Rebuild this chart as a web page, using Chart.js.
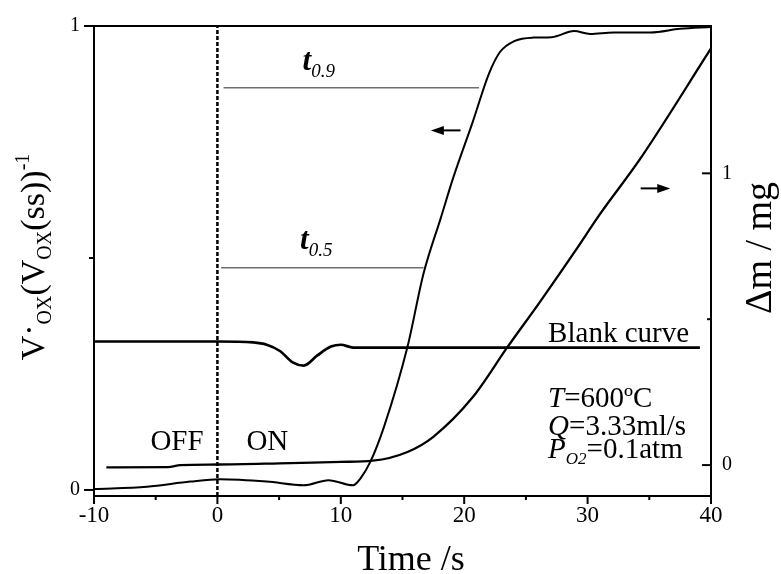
<!DOCTYPE html>
<html>
<head>
<meta charset="utf-8">
<script src="https://cdn.jsdelivr.net/npm/chart.js@4.4.1/dist/chart.umd.min.js"></script>
<style>
  body { margin: 0; background: #fff; }
  canvas { display: block; }
</style>
</head>
<body>
<canvas id="chart" width="781" height="574"></canvas>
<script>
// normalised oxidation rate (left axis)
const oxTime   = [-10, -5.7, -2.2, 0.2, 4.0, 7.0, 9.0, 11.0, 11.6, 12.4, 13.5, 15.4, 16.7, 18.1, 19.1, 20.7, 22.0, 22.9, 24.1, 25.6, 27.1, 28.9, 30.2, 32.1, 35.1, 37.5, 40];
const oxValues = [0.002, 0.007, 0.018, 0.023, 0.018, 0.010, 0.021, 0.010, 0.025, 0.061, 0.136, 0.308, 0.466, 0.586, 0.672, 0.794, 0.897, 0.944, 0.968, 0.975, 0.976, 0.989, 0.983, 0.986, 0.986, 0.994, 0.998];

// mass gain (right axis)
const dmTime   = [-9, -4, -3, 0, 5, 10, 12.6, 15.4, 17.5, 20.7, 23.5, 26.2, 29.0, 31.0, 34.3, 40];
const dmValues = [-0.008, -0.007, 0.0, 0.002, 0.006, 0.011, 0.015, 0.045, 0.097, 0.233, 0.404, 0.563, 0.734, 0.860, 1.052, 1.428];

// blank curve (left axis)
const blankTime   = [-10, 0, 2.9, 4.0, 5.1, 6.1, 7.0, 8.1, 9.2, 10.0, 11.0, 13.2, 39.1];
const blankValues = [0.320, 0.320, 0.318, 0.313, 0.299, 0.275, 0.268, 0.290, 0.309, 0.313, 0.307, 0.307, 0.307];

// t0.9 / t0.5 marker lines and the switch-on line
const t09Time = [0.5, 21.2];
const t09Values = [0.867, 0.867];
const t05Time = [0.3, 16.7];
const t05Values = [0.479, 0.479];
const switchTime = [0, 0];
const switchValues = [-0.013, 1];

const xTicks = [-10, 0, 10, 20, 30, 40];
const leftTicks = [0, 1];
const rightTicks = [0, 1];

const SERIF = "'Liberation Serif', 'Times New Roman', serif";
Chart.defaults.font.family = SERIF;
Chart.defaults.color = "#000";

function pts(xs, ys) {
  return xs.map((x, i) => ({x: x, y: ys[i]}));
}

function rich(ctx, x, y, parts) {
  let cx = x;
  parts.forEach(p => {
    ctx.font = p.f;
    ctx.fillText(p.t, cx, y + (p.dy || 0));
    cx += ctx.measureText(p.t).width;
  });
}

function richWidth(ctx, parts) {
  let w = 0;
  parts.forEach(p => { ctx.font = p.f; w += ctx.measureText(p.t).width; });
  return w;
}

function seg(ctx, x1, y1, x2, y2) {
  ctx.beginPath();
  ctx.moveTo(x1, y1);
  ctx.lineTo(x2, y2);
  ctx.stroke();
}

function arrow(ctx, xTail, xHead, y) {
  const dir = xHead > xTail ? 1 : -1;
  ctx.lineWidth = 2;
  seg(ctx, xTail, y, xHead - dir * 8, y);
  ctx.beginPath();
  ctx.moveTo(xHead, y);
  ctx.lineTo(xHead - dir * 13, y - 4.5);
  ctx.lineTo(xHead - dir * 13, y + 4.5);
  ctx.closePath();
  ctx.fill();
}

const decorations = {
  id: "decorations",
  afterDraw(chart) {
    const ctx = chart.ctx;
    const a = chart.chartArea;
    const sx = chart.scales.x, sy = chart.scales.y, sy2 = chart.scales.y2;
    ctx.save();
    ctx.strokeStyle = "#000";
    ctx.fillStyle = "#000";

    // frame top
    ctx.lineWidth = 2;
    seg(ctx, a.left - 1, a.top, a.right + 1, a.top);

    // tick marks
    for (let v = -10; v <= 40; v += 5) {
      const px = sx.getPixelForValue(v);
      seg(ctx, px, a.bottom, px, a.bottom + (v % 10 === 0 ? 8 : 4));
    }
    [[0, 10], [0.5, 5], [1, 10]].forEach(([v, len]) => {
      const py = sy.getPixelForValue(v);
      seg(ctx, a.left - len, py, a.left, py);
    });
    [[0, 9], [0.5, 4], [1, 9]].forEach(([v, len]) => {
      const py = sy2.getPixelForValue(v);
      seg(ctx, a.right - len, py, a.right, py);
    });

    // arrows pointing at each curve's axis
    arrow(ctx, sx.getPixelForValue(19.7), sx.getPixelForValue(17.3), sy.getPixelForValue(0.775));
    arrow(ctx, sx.getPixelForValue(34.3), sx.getPixelForValue(36.7), sy.getPixelForValue(0.650));

    // annotations
    ctx.textBaseline = "alphabetic";
    ctx.textAlign = "left";
    const f29 = "29px " + SERIF;
    const i29 = "italic 29px " + SERIF;
    const at = (t, v) => [sx.getPixelForValue(t), sy.getPixelForValue(v)];

    let p = at(-5.43, 0.086);
    rich(ctx, p[0], p[1], [{t: "OFF", f: f29}]);
    p = at(2.35, 0.086);
    rich(ctx, p[0], p[1], [{t: "ON", f: f29}]);
    p = at(26.8, 0.318);
    rich(ctx, p[0], p[1], [{t: "Blank curve", f: f29}]);
    p = at(26.8, 0.178);
    rich(ctx, p[0], p[1], [{t: "T", f: i29}, {t: "=600ºC", f: f29}]);
    p = at(26.8, 0.118);
    rich(ctx, p[0], p[1], [{t: "Q", f: i29}, {t: "=3.33ml/s", f: f29}]);
    p = at(26.8, 0.069);
    rich(ctx, p[0], p[1], [{t: "P", f: i29}, {t: "O2", f: "italic 17px " + SERIF, dy: 6}, {t: "=0.1atm", f: f29}]);

    const tf = "italic bold 31px " + SERIF;
    const sf = "italic 19px " + SERIF;
    p = at(6.9, 0.906);
    rich(ctx, p[0], p[1], [{t: "t", f: tf}, {t: "0.9", f: sf, dy: 7}]);
    p = at(6.7, 0.519);
    rich(ctx, p[0], p[1], [{t: "t", f: tf}, {t: "0.5", f: sf, dy: 7}]);

    // x title
    ctx.font = "36px " + SERIF;
    ctx.textAlign = "center";
    ctx.fillText("Time /s", 411, 570);
    ctx.textAlign = "left";

    // left title, rotated
    const big = "34px " + SERIF;
    const sub = "20px " + SERIF;
    const leftTitle = [
      {t: "V", f: big}, {t: "·", f: big, dy: -4}, {t: "OX", f: sub, dy: 7},
      {t: "(", f: big}, {t: "V", f: big}, {t: "OX", f: sub, dy: 7},
      {t: "(ss))", f: big}, {t: "-1", f: sub, dy: -15}
    ];
    ctx.save();
    ctx.translate(44, 257);
    ctx.rotate(-Math.PI / 2);
    rich(ctx, -richWidth(ctx, leftTitle) / 2, 0, leftTitle);
    ctx.restore();

    // right title, rotated
    const rightTitle = [{t: "Δm / mg", f: "38px " + SERIF}];
    ctx.save();
    ctx.translate(771, 248);
    ctx.rotate(-Math.PI / 2);
    rich(ctx, -richWidth(ctx, rightTitle) / 2, 0, rightTitle);
    ctx.restore();

    ctx.restore();
  }
};

new Chart(document.getElementById("chart"), {
  type: "line",
  data: {
    datasets: [
      {
        label: "Vox",
        data: pts(oxTime, oxValues),
        yAxisID: "y",
        borderColor: "#000",
        borderWidth: 2,
        cubicInterpolationMode: "monotone"
      },
      {
        label: "dm",
        data: pts(dmTime, dmValues),
        yAxisID: "y2",
        borderColor: "#000",
        borderWidth: 2.3,
        cubicInterpolationMode: "monotone"
      },
      {
        label: "Blank curve",
        data: pts(blankTime, blankValues),
        yAxisID: "y",
        borderColor: "#000",
        borderWidth: 2.7,
        cubicInterpolationMode: "monotone"
      },
      {
        label: "t0.9",
        data: pts(t09Time, t09Values),
        yAxisID: "y",
        borderColor: "#6e6e6e",
        borderWidth: 1.5
      },
      {
        label: "t0.5",
        data: pts(t05Time, t05Values),
        yAxisID: "y",
        borderColor: "#6e6e6e",
        borderWidth: 1.5
      },
      {
        label: "switch",
        data: pts(switchTime, switchValues),
        yAxisID: "y",
        borderColor: "#000",
        borderWidth: 2.5,
        borderDash: [4, 2]
      }
    ]
  },
  options: {
    responsive: false,
    animation: false,
    devicePixelRatio: 1,
    layout: {padding: {top: 24, left: 0, right: 0, bottom: 0}},
    elements: {point: {radius: 0}, line: {tension: 0}},
    plugins: {legend: {display: false}, tooltip: {enabled: false}},
    scales: {
      x: {
        type: "linear",
        min: -10,
        max: 40,
        afterBuildTicks: s => { s.ticks = xTicks.map(v => ({value: v})); },
        afterFit: s => { s.height = 78; },
        grid: {display: false, drawTicks: false},
        border: {display: true, color: "#000", width: 2},
        ticks: {
          padding: 6,
          maxRotation: 0,
          autoSkip: false,
          font: {size: 23},
          callback: v => String(v)
        }
      },
      y: {
        position: "left",
        min: -0.013,
        max: 1,
        afterBuildTicks: s => { s.ticks = leftTicks.map(v => ({value: v})); },
        afterFit: s => { s.width = 94; },
        grid: {display: false, drawTicks: false},
        border: {display: true, color: "#000", width: 2},
        ticks: {padding: 14, font: {size: 20}, callback: v => String(v)}
      },
      y2: {
        position: "right",
        min: -0.106,
        max: 1.505,
        afterBuildTicks: s => { s.ticks = rightTicks.map(v => ({value: v})); },
        afterFit: s => { s.width = 70; },
        grid: {display: false, drawTicks: false},
        border: {display: true, color: "#000", width: 2},
        ticks: {padding: 11, font: {size: 20}, callback: v => String(v)}
      }
    }
  },
  plugins: [decorations]
});
</script>
</body>
</html>
